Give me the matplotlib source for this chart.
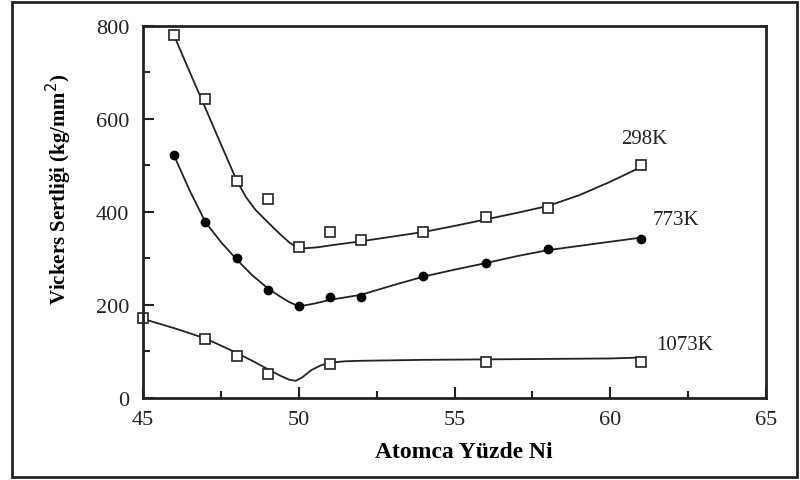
import matplotlib
matplotlib.use("Agg")
import matplotlib.pyplot as plt
from matplotlib.patches import Rectangle
from matplotlib.ticker import MultipleLocator

# measured points (atomic % Ni, Vickers hardness)
x_298 = [46, 47, 48, 49, 50, 51, 52, 54, 56, 58, 61]
y_298 = [780, 643, 467, 428, 325, 357, 340, 357, 389, 408, 501]

x_773 = [46, 47, 48, 49, 50, 51, 52, 54, 56, 58, 61]
y_773 = [523, 378, 301, 232, 198, 217, 217, 262, 290, 320, 342]

x_1073 = [45, 47, 48, 49, 51, 56, 61]
y_1073 = [172, 127, 90, 52, 73, 77, 77]

# fitted curves
cx_298 = [46, 46.5, 47, 47.5, 48, 48.3, 48.6, 49, 49.4, 49.7, 49.9, 50.2, 50.6, 51, 52, 53, 54, 55, 56, 57, 58, 59, 60, 61]
cy_298 = [778, 700, 623, 545, 468, 432, 405, 378, 352, 334, 326, 322, 324, 328, 337, 347, 357, 370, 384, 398, 413, 436, 465, 497]

cx_773 = [46, 46.5, 47, 47.5, 48, 48.5, 49, 49.4, 49.7, 50, 50.5, 51, 52, 53, 54, 55, 56, 57, 58, 59, 60, 61]
cy_773 = [520, 445, 378, 335, 298, 264, 236, 218, 206, 197, 203, 211, 222, 242, 261, 276, 290, 305, 318, 327, 336, 345]

cx_1073 = [45, 46, 47, 48, 48.5, 49, 49.4, 49.7, 49.9, 50.1, 50.4, 50.7, 51, 51.5, 52, 54, 56, 58, 60, 61]
cy_1073 = [170, 150, 128, 97, 80, 62, 48, 39, 37, 44, 60, 70, 76, 79, 80, 82, 83, 84, 85, 87]

temp_labels = ["298K", "773K", "1073K"]
label_x = [61.1, 62.1, 62.4]
label_y = [557, 383, 116]

serif = ["Liberation Serif", "DejaVu Serif"]
plt.rcParams['font.family'] = serif

fig = plt.figure(figsize=(8, 4.81), dpi=100)
ax = fig.add_axes([0.179, 0.1705, 0.7785, 0.7735])

for cx, cy in [(cx_298, cy_298), (cx_773, cy_773), (cx_1073, cy_1073)]:
    ax.plot(cx, cy, color="#222222", lw=1.3)

ax.plot(x_298, y_298, ls="none", marker="s", ms=7, mfc="white", mec="#222222", mew=1.2)
ax.plot(x_773, y_773, ls="none", marker="o", ms=6, mfc="black", mec="black")
ax.plot(x_1073, y_1073, ls="none", marker="s", ms=7, mfc="white", mec="#222222", mew=1.2, clip_on=False)

for t, lx, ly in zip(temp_labels, label_x, label_y):
    ax.text(lx, ly, t, ha="center", va="center", fontsize=15, color="#222222")

ax.set_xlim(45, 65)
ax.set_ylim(0, 800)
ax.xaxis.set_major_locator(MultipleLocator(5))
ax.xaxis.set_minor_locator(MultipleLocator(2.5))
ax.yaxis.set_major_locator(MultipleLocator(200))
ax.yaxis.set_minor_locator(MultipleLocator(100))
ax.tick_params(which="both", direction="in", top=False, right=False, width=1.5, colors="#222222", labelsize=16)
ax.tick_params(which="major", length=8)
ax.tick_params(which="minor", length=5)
ax.tick_params(axis="x", pad=9)
ax.tick_params(axis="y", pad=10)
for s in ax.spines.values():
    s.set_linewidth(2)
    s.set_color("#222222")

ax.set_xlabel("Atomca Yüzde Ni", fontsize=17, fontweight="bold")
ax.set_ylabel("Vickers Sertliği (kg/mm$^2$)", fontsize=15, fontweight="bold")
ax.xaxis.set_label_coords(0.514, -0.1425)
ax.yaxis.set_label_coords(-0.136, 0.565)
ax.xaxis.label.set_va("center")
ax.yaxis.label.set_va("center")

fig.add_artist(Rectangle((0.015, 0.006), 0.981, 0.9875, transform=fig.transFigure,
                         fill=False, lw=2, ec="#222222"))

fig.savefig("out.png", dpi=100)
